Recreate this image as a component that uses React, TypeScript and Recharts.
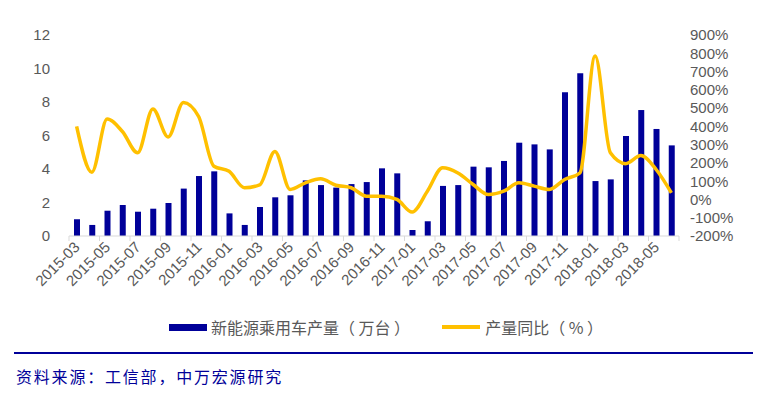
import React from "react";
import {
  ComposedChart,
  Bar,
  Line,
  XAxis,
  YAxis,
  Legend,
} from "recharts";

const MONTHS = [
  "2015-03", "2015-04", "2015-05", "2015-06", "2015-07", "2015-08", "2015-09", "2015-10",
  "2015-11", "2015-12", "2016-01", "2016-02", "2016-03", "2016-04", "2016-05", "2016-06",
  "2016-07", "2016-08", "2016-09", "2016-10", "2016-11", "2016-12", "2017-01", "2017-02",
  "2017-03", "2017-04", "2017-05", "2017-06", "2017-07", "2017-08", "2017-09", "2017-10",
  "2017-11", "2017-12", "2018-01", "2018-02", "2018-03", "2018-04", "2018-05", "2018-06",
];

// 新能源乘用车产量（万台）
const OUTPUT = [
  1.0, 0.66, 1.51, 1.85, 1.45, 1.63, 1.97, 2.83, 3.58, 3.86,
  1.35, 0.66, 1.73, 2.31, 2.43, 3.32, 3.04, 2.89, 3.1, 3.22,
  4.04, 3.74, 0.36, 0.88, 2.99, 3.04, 4.14, 4.1, 4.48, 5.57,
  5.47, 5.17, 8.58, 9.71, 3.28, 3.38, 5.97, 7.52, 6.39, 5.41,
];

// 产量同比（%）
const YOY = [
  400, 149, 440, 372, 255, 495, 342, 531, 454, 182,
  154, 64, 80, 263, 55, 91, 113, 78, 64, 18,
  18, 0, -69, 45, 173, 145, 82, 27, 45, 91,
  73, 55, 109, 145, 785, 255, 196, 240, 164, 36,
];

const LEFT_TICKS = [0, 2, 4, 6, 8, 10, 12];
const RIGHT_TICKS = [-200, -100, 0, 100, 200, 300, 400, 500, 600, 700, 800, 900];

const BAR_NAME = "新能源乘用车产量（万台）";
const LINE_NAME = "产量同比（%）";

const data = MONTHS.map((m, i) => ({
  month: m,
  [BAR_NAME]: OUTPUT[i],
  [LINE_NAME]: YOY[i],
}));

const FONT = "'Liberation Sans', Arial, sans-serif";
const TICK_STYLE = { fontSize: 15, fill: "#595959", fontFamily: FONT };
const PLOT_W = 610;
const BAND = PLOT_W / MONTHS.length;

// month label, tick mark on the left edge of the labelled month (Excel style)
function MonthTick(props: any) {
  const { x, y, payload } = props;
  const last = payload.index === MONTHS.length - 2;
  return (
    <g>
      <line x1={x - BAND / 2} x2={x - BAND / 2} y1={y - 7} y2={y - 2} stroke="#d9d9d9" />
      {last && (
        <line x1={x + BAND * 1.5} x2={x + BAND * 1.5} y1={y - 7} y2={y - 2} stroke="#d9d9d9" />
      )}
      <text
        x={x + 4}
        y={y + 5}
        transform={`rotate(-45 ${x + 4} ${y + 5})`}
        textAnchor="end"
        fontSize={15}
        fill="#595959"
        fontFamily={FONT}
      >
        {payload.value}
      </text>
    </g>
  );
}

function LegendBox() {
  return (
    <div
      style={{
        display: "flex",
        justifyContent: "center",
        alignItems: "center",
        gap: 32,
        fontFamily: "'Noto Sans CJK SC', sans-serif",
        fontSize: 16,
        color: "#595959",
        paddingLeft: 4,
      }}
    >
      <span style={{ display: "flex", alignItems: "center" }}>
        <span style={{ display: "inline-block", width: 38, height: 7, background: "#000099", marginRight: 4 }} />
        {"新能源乘用车产量（ 万台 ）"}
      </span>
      <span style={{ display: "flex", alignItems: "center" }}>
        <span style={{ display: "inline-block", width: 38, height: 4, background: "#FFC000", marginRight: 5 }} />
        {"产量同比（ % ）"}
      </span>
    </div>
  );
}

export default function App() {
  return (
    <div style={{ position: "absolute", left: 0, top: 0, width: 768, height: 396, background: "#fff" }}>
      <ComposedChart
        width={768}
        height={345}
        data={data}
        margin={{ top: 35, right: 0, left: 0, bottom: 0 }}
      >
        <XAxis
          dataKey="month"
          interval={1}
          height={79}
          tick={<MonthTick />}
          tickLine={false}
          axisLine={{ stroke: "#d9d9d9" }}
          tickSize={5}
          tickMargin={2}
        />
        <YAxis
          yAxisId="left"
          domain={[0, 12]}
          ticks={LEFT_TICKS}
          interval={0}
          width={69}
          axisLine={false}
          tickLine={false}
          tickSize={0}
          tickMargin={19}
          tick={TICK_STYLE}
        />
        <YAxis
          yAxisId="right"
          orientation="right"
          domain={[-200, 900]}
          ticks={RIGHT_TICKS}
          interval={0}
          width={89}
          axisLine={false}
          tickLine={false}
          tickSize={0}
          tickMargin={11}
          tick={TICK_STYLE}
          tickFormatter={(v) => `${v}%`}
        />
        <Legend verticalAlign="bottom" height={30} content={() => <LegendBox />} />
        <Bar
          yAxisId="left"
          dataKey={BAR_NAME}
          fill="#000099"
          barSize={6}
          isAnimationActive={false}
        />
        <Line
          yAxisId="right"
          type="monotone"
          dataKey={LINE_NAME}
          stroke="#FFC000"
          strokeWidth={3.5}
          dot={false}
          isAnimationActive={false}
        />
      </ComposedChart>
      <div style={{ position: "absolute", left: 14, top: 352, width: 739, height: 2, background: "#000099" }} />
      <div
        style={{
          position: "absolute",
          left: 16,
          top: 364,
          fontFamily: "'Noto Sans CJK SC', serif",
          fontSize: 16,
          color: "#000099",
          letterSpacing: 1.8,
        }}
      >
        资料来源：工信部，中万宏源研究
      </div>
    </div>
  );
}
